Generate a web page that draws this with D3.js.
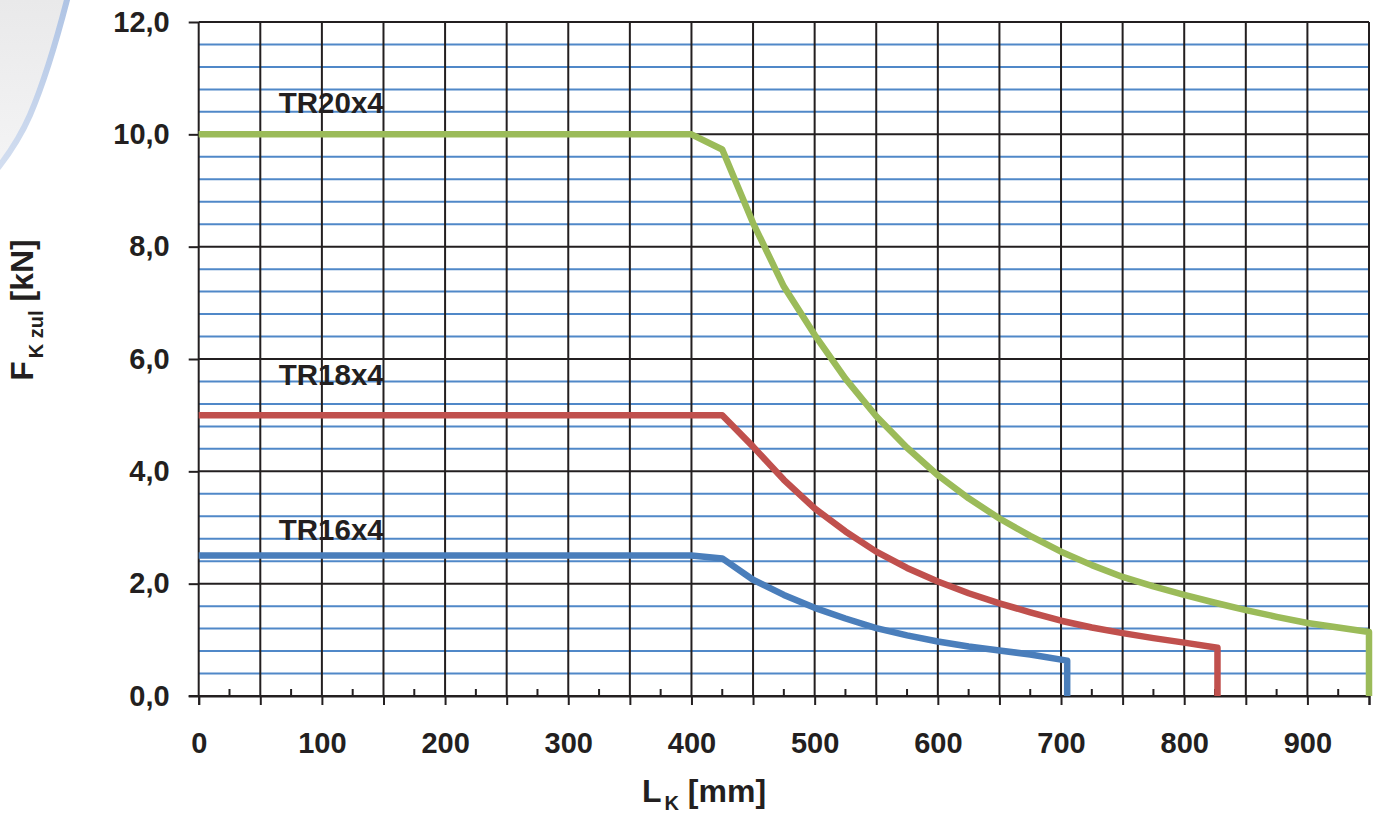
<!DOCTYPE html>
<html>
<head>
<meta charset="utf-8">
<script src="https://cdn.jsdelivr.net/npm/d3@7"></script>
<style>
  html, body { margin: 0; padding: 0; background: #ffffff; }
  svg { display: block; }
  text { font-family: "Liberation Sans", Arial, Helvetica, sans-serif; font-weight: bold; fill: #231f20; }
</style>
</head>
<body>
<svg id="chart" width="1381" height="816"></svg>
<script>
// ---- data ----
const seriesNames = ["TR20x4", "TR18x4", "TR16x4"];
const tr20Lk = [0, 400, 425, 450, 475, 500, 525, 550, 575, 600, 625, 650, 675, 700, 725, 750, 775, 800, 825, 850, 875, 900, 925, 950, 950];
const tr20F  = [10, 10, 9.73, 8.42, 7.29, 6.43, 5.65, 4.98, 4.42, 3.93, 3.52, 3.16, 2.85, 2.57, 2.33, 2.12, 1.95, 1.80, 1.66, 1.53, 1.41, 1.30, 1.22, 1.14, 0];
const tr18Lk = [0, 425, 450, 475, 500, 525, 550, 575, 600, 625, 650, 675, 700, 725, 750, 775, 800, 827, 827];
const tr18F  = [5, 5, 4.44, 3.85, 3.34, 2.93, 2.57, 2.28, 2.04, 1.83, 1.65, 1.49, 1.34, 1.22, 1.12, 1.03, 0.95, 0.86, 0];
const tr16Lk = [0, 400, 425, 450, 475, 500, 525, 550, 575, 600, 625, 650, 675, 705, 705];
const tr16F  = [2.5, 2.5, 2.45, 2.07, 1.80, 1.57, 1.38, 1.21, 1.08, 0.97, 0.88, 0.81, 0.74, 0.63, 0];
const labelLk = [65, 65, 65];
const labelF  = [10.38, 5.54, 2.78];
const yTicks = [0, 2, 4, 6, 8, 10, 12];
const xLabelTicks = [0, 100, 200, 300, 400, 500, 600, 700, 800, 900];
const xDomain = [0, 950];
const yDomain = [0, 12];

// ---- setup ----
const svg = d3.select("#chart");
const x = d3.scaleLinear().domain(xDomain).range([198.7, 1369]);
const y = d3.scaleLinear().domain(yDomain).range([696, 22]);
const fmt = d => d3.format(".1f")(d).replace(".", ",");

// ---- decoration (top-left swoosh) ----
const defs = svg.append("defs");
const gg = defs.append("linearGradient").attr("id", "grayGrad").attr("x1", 0).attr("y1", 0).attr("x2", 0).attr("y2", 1);
gg.append("stop").attr("offset", "0%").attr("stop-color", "#e9e9ea");
gg.append("stop").attr("offset", "100%").attr("stop-color", "#f4f4f5");
const bg = defs.append("linearGradient").attr("id", "blueGrad").attr("x1", 0).attr("y1", 0).attr("x2", 0).attr("y2", 1);
bg.append("stop").attr("offset", "0%").attr("stop-color", "#aec3e4");
bg.append("stop").attr("offset", "100%").attr("stop-color", "#d3def0");
svg.append("path")
  .attr("d", "M0,0 L68,0 C58,35 45,80 30,115 C20,138 8,155 -2,168 L0,168 Z")
  .attr("fill", "url(#grayGrad)");
svg.append("path")
  .attr("d", "M68,-4 C58,35 45,80 30,115 C20,138 8,155 -2,168")
  .attr("fill", "none").attr("stroke", "url(#blueGrad)").attr("stroke-width", 6);

// ---- grid ----
const grid = svg.append("g");
const blueVals = d3.range(0, 31).filter(i => i % 5 !== 0).map(i => i * 0.4);
grid.selectAll("line.blue").data(blueVals).join("line")
  .attr("x1", x(0)).attr("x2", x(950))
  .attr("y1", d => y(d)).attr("y2", d => y(d))
  .attr("stroke", "#5088c8").attr("stroke-width", 2);
const vVals = d3.range(0, 951, 50);
grid.selectAll("line.v").data(vVals).join("line")
  .attr("x1", d => x(d)).attr("x2", d => x(d))
  .attr("y1", y(12)).attr("y2", y(0))
  .attr("stroke", "#231f20").attr("stroke-width", 2);
grid.selectAll("line.h").data(yTicks).join("line")
  .attr("x1", x(0)).attr("x2", x(950))
  .attr("y1", d => y(d)).attr("y2", d => y(d))
  .attr("stroke", "#231f20").attr("stroke-width", 2);

// ---- axes ----
const yAxis = svg.append("g").attr("transform", `translate(${x(0)},0)`)
  .call(d3.axisLeft(y).tickValues(yTicks).tickSize(10).tickPadding(19).tickFormat(fmt));
const xAxis = svg.append("g").attr("transform", `translate(0,${y(0)})`)
  .call(d3.axisBottom(x).tickValues(vVals).tickSize(9).tickPadding(27)
    .tickFormat(d => xLabelTicks.includes(d) ? String(d) : ""));
[yAxis, xAxis].forEach(a => {
  a.select(".domain").attr("stroke", "#231f20").attr("stroke-width", 2);
  a.selectAll(".tick line").attr("stroke", "#231f20").attr("stroke-width", 2);
  a.selectAll(".tick text").style("font-size", "29px").attr("fill", "#231f20");
});
yAxis.select(".domain").remove();
svg.append("line").attr("x1", x(0) - 10).attr("x2", x(950)).attr("y1", y(0)).attr("y2", y(0))
  .attr("stroke", "#231f20").attr("stroke-width", 2);
// minor ticks at odd 25s, pointing up
const minorX = d3.range(25, 951, 50);
svg.selectAll("line.minor").data(minorX).join("line")
  .attr("x1", d => x(d)).attr("x2", d => x(d))
  .attr("y1", y(0)).attr("y2", y(0) - 7)
  .attr("stroke", "#231f20").attr("stroke-width", 2);

// ---- series ----
const series = [
  { name: seriesNames[0], lk: tr20Lk, f: tr20F, color: "#9bbb59" },
  { name: seriesNames[1], lk: tr18Lk, f: tr18F, color: "#c0504d" },
  { name: seriesNames[2], lk: tr16Lk, f: tr16F, color: "#4a7ebb" }
];
const line = d3.line().x(d => x(d[0])).y(d => y(d[1]));
series.forEach(s => {
  svg.append("path")
    .attr("d", line(s.lk.map((v, i) => [v, s.f[i]])))
    .attr("fill", "none").attr("stroke", s.color).attr("stroke-width", 6.5)
    .attr("stroke-linejoin", "round");
});
series.forEach((s, i) => {
  svg.append("text").attr("x", x(labelLk[i])).attr("y", y(labelF[i]))
    .style("font-size", "29.5px").text(s.name);
});

// ---- axis titles ----
const xt = svg.append("text").attr("x", 704).attr("y", 802).attr("text-anchor", "middle").style("font-size", "32px");
xt.append("tspan").text("L");
xt.append("tspan").attr("dx", 3).attr("dy", 8).style("font-size", "20px").text("K");
xt.append("tspan").attr("dy", -8).text(" [mm]");

const yt = svg.append("text").attr("transform", "translate(33,310) rotate(-90)").attr("text-anchor", "middle").style("font-size", "32px");
yt.append("tspan").text("F");
yt.append("tspan").attr("dx", 3).attr("dy", 10).style("font-size", "20px").text("K zul");
yt.append("tspan").attr("dy", -10).text(" [kN]");
</script>
</body>
</html>
